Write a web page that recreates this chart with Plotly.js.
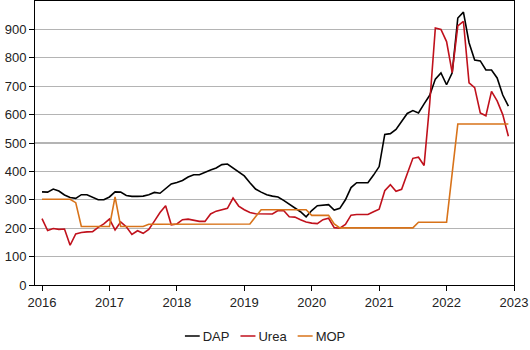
<!DOCTYPE html>
<html>
<head>
<meta charset="utf-8">
<script src="https://cdn.plot.ly/plotly-3.0.1.min.js"></script>
<style>html,body{margin:0;padding:0;background:#fff;}#chart{width:530px;height:350px;}</style>
</head>
<body>
<div id="chart"></div>
<script>
// Monthly prices, Jan 2016 - Dec 2022 (USD/mt)
const startYear = 2016;
const seriesNames = ["DAP", "Urea", "MOP"];
const dap = [
  328, 327, 338, 331, 317, 308, 305, 318, 318, 309, 300, 300,
  310, 328, 327, 315, 312, 312, 313, 318, 326, 323, 341, 356,
  361, 368, 380, 388, 388, 397, 405, 412, 424, 426, 412, 398,
  384, 360, 338, 327, 318, 313, 310, 298, 285, 274, 258, 240,
  262, 279, 280, 283, 264, 270, 300, 343, 360, 360, 360, 387,
  417, 530, 533, 548, 577, 604, 614, 606, 638, 668, 725, 747,
  705, 747, 940, 961, 853, 792, 789, 757, 757, 729, 669, 630
];
const urea = [
  234, 192, 199, 196, 197, 140, 180, 185, 187, 188, 203, 215,
  232, 194, 222, 205, 178, 191, 182, 196, 225, 255, 279, 212,
  215, 230, 232, 228, 224, 224, 250, 260, 266, 270, 306, 278,
  265, 255, 251, 250, 250, 250, 262, 262, 240, 239, 230, 222,
  218, 216, 230, 235, 202, 200, 213, 246, 248, 248, 248, 258,
  267, 332, 353, 330, 337, 392, 446, 450, 421, 640, 905, 900,
  857, 748, 912, 928, 712, 695, 606, 596, 682, 648, 600, 524
];
const mop = [
  302, 302, 302, 302, 302, 302, 290, 206, 206, 206, 206, 206,
  206, 310, 206, 206, 206, 206, 206, 214, 214, 214, 214, 214,
  214, 214, 214, 214, 214, 214, 214, 214, 214, 214, 214, 214,
  214, 215, 240, 265, 265, 265, 265, 265, 265, 265, 265, 265,
  245, 245, 245, 245, 215, 201, 201, 201, 201, 201, 201, 201,
  201, 201, 201, 201, 201, 201, 201, 221, 221, 221, 221, 221,
  221, 394, 567, 567, 567, 567, 567, 567, 567, 567, 567, 567
];
const yearTicks = [2016, 2017, 2018, 2019, 2020, 2021, 2022, 2023];
const yTicks = [0, 100, 200, 300, 400, 500, 600, 700, 800, 900];

const months = dap.map((_, i) => startYear + i / 12);
const colors = ["#000000", "#c0111c", "#d8731a"];
const values = [dap, urea, mop];

const traces = values.map((v, k) => ({
  x: months, y: v, type: "scatter", mode: "lines", name: seriesNames[k],
  line: {color: colors[k], width: 1.6}
}));

const layout = {
  width: 530, height: 350,
  margin: {l: 35, r: 16, t: 1, b: 65, autoexpand: false},
  paper_bgcolor: "#fff", plot_bgcolor: "#fff",
  font: {family: "Liberation Sans, Arial, sans-serif", size: 13, color: "#222"},
  showlegend: true,
  legend: {orientation: "h", x: 0.5, xanchor: "center", xref: "container",
           y: 0.04, yanchor: "middle", yref: "container",
           font: {size: 13, color: "#222"}, itemwidth: 30, tracegroupgap: 0},
  xaxis: {
    type: "linear", range: [2015.896, 2023], tickvals: yearTicks,
    ticktext: yearTicks.map(String),
    showgrid: false, zeroline: false,
    showline: true, linecolor: "#000", linewidth: 1, mirror: true,
    ticks: "outside", ticklen: 5, tickcolor: "#000", tickwidth: 1
  },
  yaxis: {
    range: [0, 1000], tickvals: yTicks, ticktext: yTicks.map(String),
    showgrid: true, gridcolor: "#b4b4b4", gridwidth: 1.2, zeroline: false,
    showline: true, linecolor: "#000", linewidth: 1, mirror: true,
    ticks: "outside", ticklen: 5, tickcolor: "#000", tickwidth: 1
  }
};

function parseTranslate(el) {
  const t = el.getAttribute("transform") || "";
  const m = t.match(/translate\(\s*([-\d.e]+)[ ,]+([-\d.e]+)\s*\)/);
  return m ? [parseFloat(m[1]), parseFloat(m[2])] : [0, 0];
}

Plotly.newPlot("chart", traces, layout, {displayModeBar: false, staticPlot: true}).then(gd => {
  try {
    // compact legend keys: short line, small gap, tighter spacing
    const items = gd.querySelectorAll(".legend .traces");
    let x = 0;
    items.forEach(it => {
      const path = it.querySelector(".legendlines path");
      if (path) path.setAttribute("d", "M0,0h15");
      const txt = it.querySelector("text.legendtext");
      txt.setAttribute("x", 18);
      const w = txt.getComputedTextLength();
      const [, ty] = parseTranslate(it);
      it.setAttribute("transform", "translate(" + x + "," + ty + ")");
      x += 18 + w + 11;
    });
    const total = x - 11;
    const leg = gd.querySelector(".legend");
    const [, ly] = parseTranslate(leg);
    leg.setAttribute("transform", "translate(" + (265 - total / 2) + "," + ly + ")");
  } catch (e) {}
});
</script>
</body>
</html>
